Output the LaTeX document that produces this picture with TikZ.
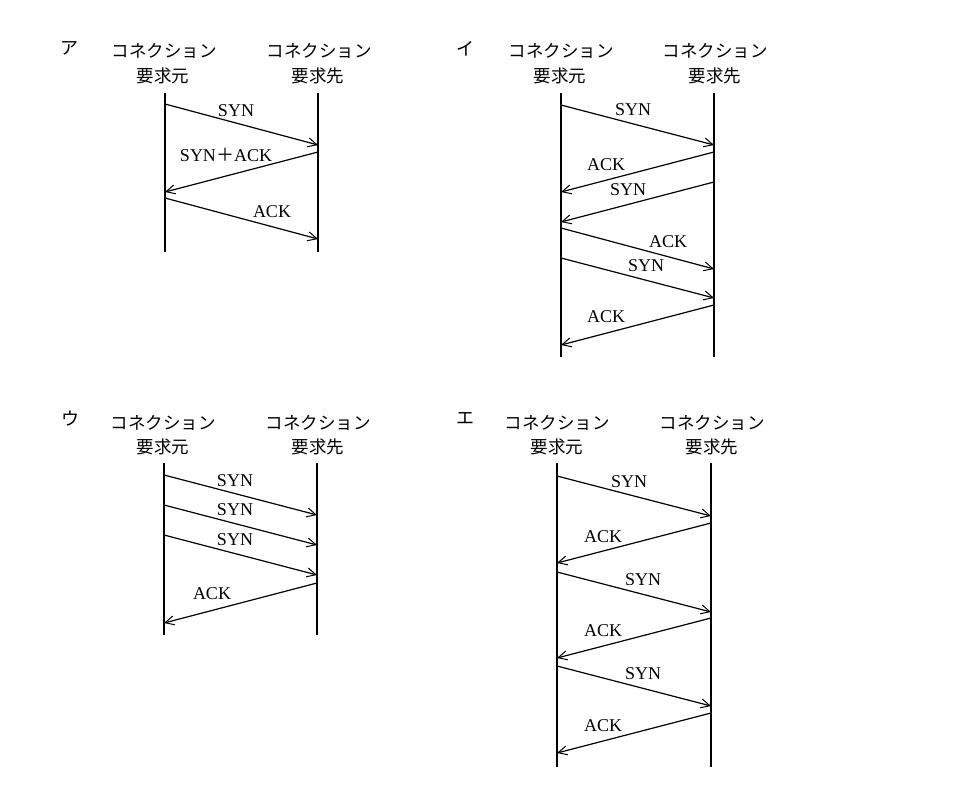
\documentclass[tikz,border=0pt]{standalone}
\usepackage{fontspec}
\setmainfont{Liberation Serif}
\newfontfamily\cjk{Noto Sans CJK JP}
\usetikzlibrary{arrows.meta}
\tikzset{
  life/.style={line width=1.3pt},
  msg/.style={line width=1.2pt,-{Straight Barb[length=9pt,width=9pt,line width=1pt]}},
  lbl/.style={inner sep=0pt,font=\fontsize{18}{20}\selectfont},
  hdr/.style={inner sep=0pt,font=\cjk\fontsize{17.5}{20}\selectfont},
  panelmark/.style={inner sep=0pt,font=\cjk\fontsize{18}{20}\selectfont},
}
\begin{document}
\begin{tikzpicture}[x=1pt,y=-1pt]
\useasboundingbox (0,0) rectangle (974,800);
% ===== Panel A =====
\node[panelmark] (amark) at (69,48) {ア};
\node[hdr] (ah1) at (164,51) {コネクション};
\node[hdr] (ah2) at (163,76) {要求元};
\node[hdr] (ah3) at (319,51) {コネクション};
\node[hdr] (ah4) at (318,76) {要求先};
\coordinate (aLt) at (165,93); \coordinate (aLb) at (165,252);
\coordinate (aRt) at (318,93); \coordinate (aRb) at (318,252);
\draw[life] (aLt) -- (aLb);
\draw[life] (aRt) -- (aRb);
\coordinate (a1s) at (165,104); \coordinate (a1e) at (318,145);
\coordinate (a2s) at (318,152); \coordinate (a2e) at (165,192);
\coordinate (a3s) at (165,198); \coordinate (a3e) at (318,239);
\draw[msg] (a1s) -- (a1e);
\draw[msg] (a2s) -- (a2e);
\draw[msg] (a3s) -- (a3e);
\node[lbl] (al1) at (236,111) {SYN};
\node[lbl] (al2) at (226,155) {SYN{\cjk ＋}ACK};
\node[lbl] (al3) at (272,212) {ACK};
% ===== Panel I =====
\node[panelmark] (imark) at (465,49) {イ};
\node[hdr] (ih1) at (561,51) {コネクション};
\node[hdr] (ih2) at (560,76) {要求元};
\node[hdr] (ih3) at (715,51) {コネクション};
\node[hdr] (ih4) at (715,76) {要求先};
\coordinate (iLt) at (561,93); \coordinate (iLb) at (561,357);
\coordinate (iRt) at (714,93); \coordinate (iRb) at (714,357);
\draw[life] (iLt) -- (iLb);
\draw[life] (iRt) -- (iRb);
\coordinate (i1s) at (561,105); \coordinate (i1e) at (714,145);
\coordinate (i2s) at (714,152); \coordinate (i2e) at (561,192);
\coordinate (i3s) at (714,182); \coordinate (i3e) at (561,222);
\coordinate (i4s) at (561,228); \coordinate (i4e) at (714,269);
\coordinate (i5s) at (561,258); \coordinate (i5e) at (714,298);
\coordinate (i6s) at (714,305); \coordinate (i6e) at (561,345);
\draw[msg] (i1s) -- (i1e);
\draw[msg] (i2s) -- (i2e);
\draw[msg] (i3s) -- (i3e);
\draw[msg] (i4s) -- (i4e);
\draw[msg] (i5s) -- (i5e);
\draw[msg] (i6s) -- (i6e);
\node[lbl] (il1) at (633,110) {SYN};
\node[lbl] (il2) at (606,165) {ACK};
\node[lbl] (il3) at (628,190) {SYN};
\node[lbl] (il4) at (668,242) {ACK};
\node[lbl] (il5) at (646,266) {SYN};
\node[lbl] (il6) at (606,317) {ACK};
% ===== Panel U =====
\node[panelmark] (umark) at (70,419) {ウ};
\node[hdr] (uh1) at (163,423) {コネクション};
\node[hdr] (uh2) at (163,447) {要求元};
\node[hdr] (uh3) at (318,423) {コネクション};
\node[hdr] (uh4) at (318,447) {要求先};
\coordinate (uLt) at (164,463); \coordinate (uLb) at (164,635);
\coordinate (uRt) at (317,463); \coordinate (uRb) at (317,635);
\draw[life] (uLt) -- (uLb);
\draw[life] (uRt) -- (uRb);
\coordinate (u1s) at (164,475); \coordinate (u1e) at (317,515);
\coordinate (u2s) at (164,505); \coordinate (u2e) at (317,545);
\coordinate (u3s) at (164,535); \coordinate (u3e) at (317,575);
\coordinate (u4s) at (317,583); \coordinate (u4e) at (164,623);
\draw[msg] (u1s) -- (u1e);
\draw[msg] (u2s) -- (u2e);
\draw[msg] (u3s) -- (u3e);
\draw[msg] (u4s) -- (u4e);
\node[lbl] (ul1) at (235,481) {SYN};
\node[lbl] (ul2) at (235,510) {SYN};
\node[lbl] (ul3) at (235,540) {SYN};
\node[lbl] (ul4) at (212,594) {ACK};
% ===== Panel E =====
\node[panelmark] (emark) at (465,418) {エ};
\node[hdr] (eh1) at (557,423) {コネクション};
\node[hdr] (eh2) at (557,447) {要求元};
\node[hdr] (eh3) at (712,423) {コネクション};
\node[hdr] (eh4) at (712,447) {要求先};
\coordinate (eLt) at (557,463); \coordinate (eLb) at (557,767);
\coordinate (eRt) at (711,463); \coordinate (eRb) at (711,767);
\draw[life] (eLt) -- (eLb);
\draw[life] (eRt) -- (eRb);
\coordinate (e1s) at (557,476); \coordinate (e1e) at (711,516);
\coordinate (e2s) at (711,523); \coordinate (e2e) at (557,563);
\coordinate (e3s) at (557,572); \coordinate (e3e) at (711,612);
\coordinate (e4s) at (711,618); \coordinate (e4e) at (557,658);
\coordinate (e5s) at (557,666); \coordinate (e5e) at (711,706);
\coordinate (e6s) at (711,713); \coordinate (e6e) at (557,753);
\draw[msg] (e1s) -- (e1e);
\draw[msg] (e2s) -- (e2e);
\draw[msg] (e3s) -- (e3e);
\draw[msg] (e4s) -- (e4e);
\draw[msg] (e5s) -- (e5e);
\draw[msg] (e6s) -- (e6e);
\node[lbl] (el1) at (629,482) {SYN};
\node[lbl] (el2) at (603,537) {ACK};
\node[lbl] (el3) at (643,580) {SYN};
\node[lbl] (el4) at (603,631) {ACK};
\node[lbl] (el5) at (643,674) {SYN};
\node[lbl] (el6) at (603,726) {ACK};
\end{tikzpicture}
\end{document}
